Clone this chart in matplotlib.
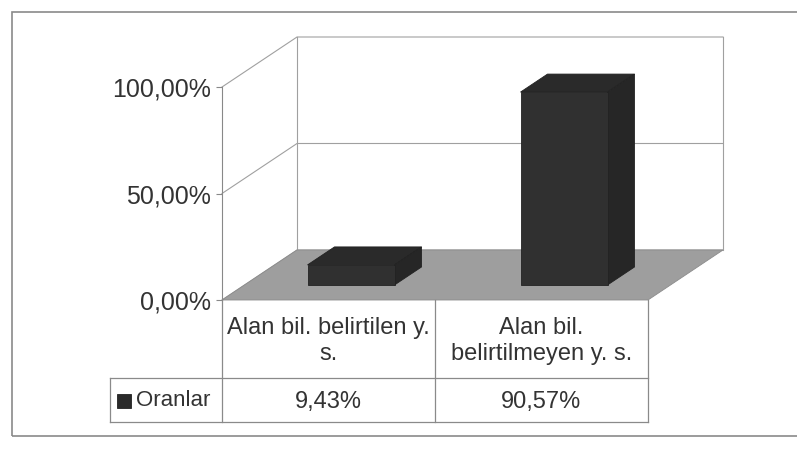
import matplotlib
matplotlib.use("Agg")
import matplotlib.pyplot as plt
from matplotlib.patches import Polygon, Rectangle
from matplotlib.lines import Line2D

# ---- data ----
categories = ["Alan bil. belirtilen y.\ns.", "Alan bil.\nbelirtilmeyen y. s."]
values = [0.0943, 0.9057]
value_labels = ["9,43%", "90,57%"]
series_name = "Oranlar"
yticks = [0.0, 0.5, 1.0]
ytick_labels = ["0,00%", "50,00%", "100,00%"]

plt.rcParams['font.family'] = ['Liberation Sans', 'DejaVu Sans']

W, H = 797, 463
fig = plt.figure(figsize=(W / 100, H / 100), dpi=100)
fig.patch.set_facecolor('white')


def fx(px):
    return px / W


def fy(py):
    return 1 - py / H


# outer chart border
fig.add_artist(Rectangle((fx(12), fy(436)), fx(800) - fx(12), fy(12) - fy(436),
                         transform=fig.transFigure, fill=False, edgecolor='#8a8a8a', lw=1.2))

ax = fig.add_axes([fx(222), fy(300), (648 - 222) / W, (300 - 87) / H])
ax.set_xlim(0, len(categories))
ax.set_ylim(0, 1)
ax.patch.set_visible(False)

PX = 1 / 213.0          # one pixel in data units (both axes)
DX = 75 * PX            # depth offset x
DY = 50 * PX            # depth offset y
n = len(categories)
gridc = '#a0a0a0'
kw = dict(clip_on=False)

# walls
ax.add_patch(Polygon([(DX, DY), (n + DX, DY), (n + DX, 1 + DY), (DX, 1 + DY)],
                     closed=True, facecolor='white', edgecolor='none', zorder=0, **kw))
ax.add_patch(Polygon([(0, 0), (DX, DY), (DX, 1 + DY), (0, 1)],
                     closed=True, facecolor='white', edgecolor='none', zorder=0, **kw))
# gridlines
for v in yticks:
    ax.add_line(Line2D([0, DX, n + DX], [v, v + DY, v + DY], color=gridc, lw=0.8, zorder=1, **kw))
ax.add_line(Line2D([DX, DX], [DY, 1 + DY], color=gridc, lw=0.8, zorder=1, **kw))
ax.add_line(Line2D([n + DX, n + DX], [DY, 1 + DY], color=gridc, lw=0.8, zorder=1, **kw))

# floor
ax.add_patch(Polygon([(0, 0), (n, 0), (n + DX, DY), (DX, DY)], closed=True,
                     facecolor='#9e9e9e', edgecolor='#8c8c8c', lw=0.6, zorder=2, **kw))

# bars
f0, f1 = 0.3, 0.66
bw = 87 * PX
front_c, top_c, side_c = '#303030', '#2a2a2a', '#262626'
for i, v in enumerate(values):
    cx = i + 0.5 + f0 * DX
    b = f0 * DY
    ax.bar(cx, v, width=bw, bottom=b, color=front_c, edgecolor='#222222', lw=0.6, zorder=4, **kw)
    x0, x1 = cx - bw / 2, cx + bw / 2
    ddx, ddy = (f1 - f0) * DX, (f1 - f0) * DY
    ax.add_patch(Polygon([(x0, b + v), (x1, b + v), (x1 + ddx, b + v + ddy), (x0 + ddx, b + v + ddy)],
                         closed=True, facecolor=top_c, edgecolor='#222222', lw=0.6, zorder=3, **kw))
    ax.add_patch(Polygon([(x1, b), (x1 + ddx, b + ddy), (x1 + ddx, b + v + ddy), (x1, b + v)],
                         closed=True, facecolor=side_c, edgecolor='#222222', lw=0.6, zorder=3, **kw))

# axis
for s in ['top', 'right', 'bottom']:
    ax.spines[s].set_visible(False)
ax.spines['left'].set_color('#888888')
ax.spines['left'].set_linewidth(0.8)
ax.spines['left'].set_zorder(5)
ax.set_xticks([])
ax.set_yticks(yticks)
ax.set_yticklabels(ytick_labels, fontsize=18, color='#333333')
ax.tick_params(axis='y', length=4, width=0.8, color='#888888', pad=4)

# data table
tc = '#8a8a8a'
row1 = -78 * PX
row2 = -122 * PX
legx = -112 * PX
for xv in range(n + 1):
    ax.add_line(Line2D([xv, xv], [0, row2], color=tc, lw=0.9, zorder=2, **kw))
ax.add_line(Line2D([legx, n], [row1, row1], color=tc, lw=0.9, **kw))
ax.add_line(Line2D([legx, n], [row2, row2], color=tc, lw=0.9, **kw))
ax.add_line(Line2D([legx, legx], [row1, row2], color=tc, lw=0.9, **kw))

for i, (c, vl) in enumerate(zip(categories, value_labels)):
    ax.text(i + 0.5, -41 * PX, c, ha='center', va='center', fontsize=17,
            color='#333333', linespacing=1.2, **kw)
    ax.text(i + 0.5, -102 * PX, vl, ha='center', va='center', fontsize=17,
            color='#333333', **kw)

ax.add_patch(Rectangle((-105 * PX, -108 * PX), 14 * PX, 14 * PX, facecolor='#2a2a2a',
                       edgecolor='#222222', lw=0.6, **kw))
ax.text(-86 * PX, -100 * PX, series_name, ha='left', va='center', fontsize=16,
        color='#333333', **kw)

fig.savefig('out.png', dpi=100, facecolor='white')
